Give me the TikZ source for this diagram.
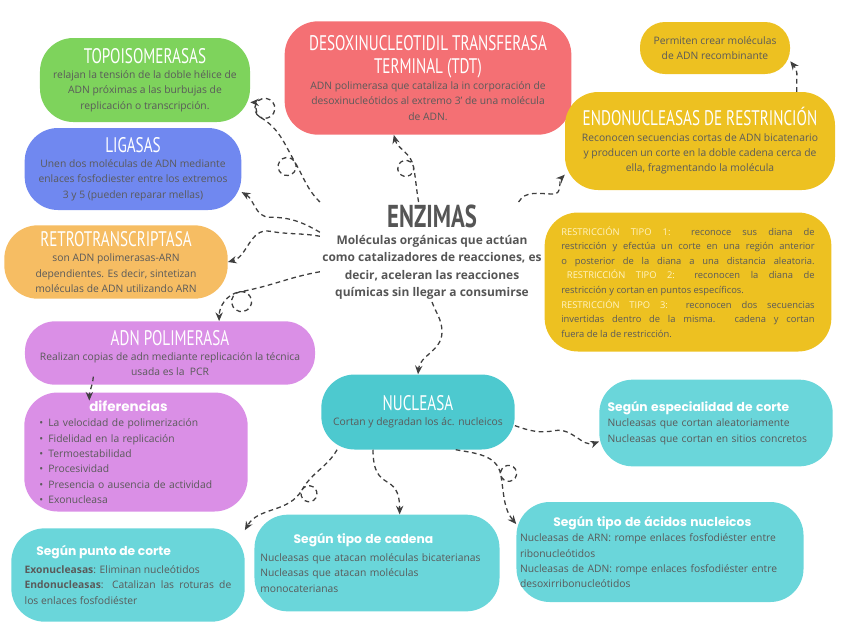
\documentclass[tikz,border=0pt]{standalone}
\usepackage{fontspec}
\setmainfont{Open Sans}
\newfontfamily\headfont[FakeStretch=0.72]{PT Sans}
\newfontfamily\segfont{Poppins}
\usepackage{xcolor}
\usepackage{tikz}
\usetikzlibrary{arrows.meta, positioning, calc}
\hyphenpenalty=10000
\exhyphenpenalty=10000
\definecolor{txtgray}{HTML}{5A5A5A}
\definecolor{enzgray}{HTML}{555555}
\definecolor{arrgray}{HTML}{3F3F3F}
\definecolor{cgreen}{HTML}{7ED35C}
\definecolor{cblue}{HTML}{7088F0}
\definecolor{cred}{HTML}{F47074}
\definecolor{cyellow}{HTML}{EDC121}
\definecolor{corange}{HTML}{F6BD63}
\definecolor{cviolet}{HTML}{DA8FE6}
\definecolor{cteal}{HTML}{4DC9CF}
\definecolor{cteal2}{HTML}{6AD6DA}
\definecolor{restlight}{HTML}{FFF3C4}
\newcommand{\headtxt}[1]{{\headfont\fontsize{18}{19}\selectfont\color{white}#1}}
\newcommand{\segtxt}[1]{{\segfont\bfseries\fontsize{10.5}{13}\selectfont\color{white}#1}}
\newcommand{\tipo}[1]{{\color{restlight}#1}}
\tikzstyle{blob} = [rectangle, rounded corners=1cm, align=center, text=txtgray, font=\fontsize{8.8}{13.1}\selectfont, inner sep=3pt]
\tikzstyle{lblob} = [blob, align=left]
\tikzstyle{arr} = [-{Stealth[length=2.6mm, width=2.2mm]}, dash pattern=on 4pt off 3pt, line width=1.1pt, draw=arrgray]

\begin{document}
\begin{tikzpicture}[x=0.03cm, y=0.03cm]
  \useasboundingbox (0,0) rectangle (848,-636);
  % centre
  \node[align=center, text=enzgray, inner sep=2pt, font=\fontsize{10.2}{14.8}\selectfont\bfseries] (enz) at (432,-252)
    {{\headfont\fontsize{27}{27}\selectfont ENZIMAS}\\ Moléculas orgánicas que actúan\\ como catalizadores de reacciones, es\\ decir, aceleran las reacciones\\ químicas sin llegar a consumirse};
  % left column
  \node[blob, fill=cgreen, minimum width=6.3cm, minimum height=2.52cm] (topo) at (145,-80)
    {\headtxt{TOPOISOMERASAS}\\ relajan la tensión de la doble hélice de\\ ADN próximas a las burbujas de\\ replicación o transcripción.};
  \node[blob, fill=cblue, minimum width=6.5cm, minimum height=2.46cm] (liga) at (133,-169)
    {\headtxt{LIGASAS}\\ Unen dos moléculas de ADN mediante\\ enlaces fosfodiester entre los extremos\\ 3 y 5 (pueden reparar mellas)};
  \node[blob, fill=corange, minimum width=6.7cm, minimum height=2.2cm] (retro) at (116,-262)
    {\headtxt{RETROTRANSCRIPTASA}\\ son ADN polimerasas-ARN\\ dependientes. Es decir, sintetizan\\ moléculas de ADN utilizando ARN};
  \node[blob, fill=cviolet, rounded corners=0.9cm, minimum width=8.7cm, minimum height=1.9cm] (pol) at (170,-353)
    {\headtxt{ADN POLIMERASA}\\ Realizan copias de adn mediante replicación la técnica\\ usada es la \ PCR};
  \node[lblob, fill=cviolet, text width=5.8cm, minimum width=6.7cm, minimum height=3.57cm] (dif) at (136,-452)
    {\hspace*{1.5cm}{\segfont\bfseries\fontsize{11.5}{13}\selectfont\color{white}diferencias}\\ \textbullet\enspace La velocidad de polimerización\\ \textbullet\enspace Fidelidad en la replicación\\ \textbullet\enspace Termoestabilidad\\ \textbullet\enspace Procesividad\\ \textbullet\enspace Presencia o ausencia de actividad\\ \textbullet\enspace Exonucleasa};
  % top and right
  \node[blob, fill=cred, minimum width=8.6cm, minimum height=3.4cm] (tdt) at (428,-78)
    {\headtxt{DESOXINUCLEOTIDIL TRANSFERASA}\\[6pt] \headtxt{TERMINAL (TDT)}\\[1pt] ADN polimerasa que cataliza la in corporación de\\ desoxinucleótidos al extremo 3' de una molécula\\ de ADN.};
  \node[blob, fill=cyellow, rounded corners=0.75cm, minimum width=4.5cm, minimum height=1.56cm] (recomb) at (715,-48)
    {Permiten crear moléculas\\ de ADN recombinante};
  \node[blob, fill=cyellow, minimum width=8.1cm, minimum height=2.94cm] (endo) at (700,-141)
    {\headtxt{ENDONUCLEASAS DE RESTRINCIÓN}\\ Reconocen secuencias cortas de ADN bicatenario\\ y producen un corte en la doble cadena cerca de\\ ella, fragmentando la molécula};
  \node[blob, align=justify, fill=cyellow, text width=7.6cm, minimum width=8.6cm, minimum height=4.17cm, font=\fontsize{8}{12.5}\selectfont] (restr) at (688,-282)
    {\tipo{RESTRICCIÓN TIPO 1:} reconoce sus diana de\linebreak restricción y efectúa un corte en una región anterior\linebreak o posterior de la diana a una distancia aleatoria.\linebreak \hspace*{0.6em}\tipo{RESTRICCIÓN TIPO 2:} reconocen la diana de\linebreak restricción y cortan en puntos específicos.\\ \tipo{RESTRICCIÓN TIPO 3:} reconocen dos secuencias\linebreak invertidas dentro de la misma. cadena y cortan\linebreak fuera de la de restricción.};
  % nucleasas
  \node[blob, fill=cteal, minimum width=5.8cm, minimum height=2.25cm] (nucl) at (418,-412)
    {\headtxt{NUCLEASA}\\ Cortan y degradan los ác. nucleicos};
  \node[lblob, fill=cteal2, text width=6.5cm, minimum width=7cm, minimum height=2.6cm] (espec) at (716,-423)
    {\segtxt{Según especialidad de corte}\\ Nucleasas que cortan aleatoriamente\\ Nucleasas que cortan en sitios concretos};
  \node[blob, align=justify, fill=cteal2, text width=6.2cm, minimum width=7cm, minimum height=2.8cm] (punto) at (128,-575)
    {\hspace*{0.35cm}\segtxt{Según punto de corte}\\[2pt] \textbf{Exonucleasas}: Eliminan nucleótidos\\ \textbf{Endonucleasas}: Catalizan las roturas de\linebreak los enlaces fosfodiéster};
  \node[lblob, fill=cteal2, text width=7cm, minimum width=7.35cm, minimum height=2.9cm] (cadena) at (377,-563)
    {\hspace*{1cm}\segtxt{Según tipo de cadena}\\[2pt] Nucleasas que atacan moléculas bicaterianas\\ Nucleasas que atacan moléculas\\ monocaterianas};
  \node[lblob, fill=cteal2, text width=8.4cm, minimum width=8.6cm, minimum height=3cm] (acidos) at (660,-552)
    {\hspace*{1cm}\segtxt{Según tipo de ácidos nucleicos}\\ Nucleasas de ARN: rompe enlaces fosfodiéster entre\\ ribonucleótidos\\ Nucleasas de ADN: rompe enlaces fosfodiéster entre\\ desoxirribonucleótidos};
  % connectors from the centre
  \draw[arr] (enz.north west) to[out=135,in=-60] ++(-25,40) arc[start angle=30, delta angle=360, radius=9]
    to[out=120,in=-30] ++(-35,45) arc[start angle=240, delta angle=-360, radius=10] to[out=150,in=0] (topo.-12);
  \draw[arr] (enz.170) to[out=150,in=0] ++(-50,15) to[out=180,in=-30] (liga.-12);
  \draw[arr] (enz.105) to[out=100,in=-80] ++(-5,35) arc[start angle=10, delta angle=360, radius=8] to[out=100,in=-75] (tdt.-121);
  \draw[arr] (enz.30) to[out=60,in=180] ++(35,8) to[out=0,in=-135] (endo.-166);
  \draw[arr] (enz.172) to[out=170,in=-10] ++(-50,5) to[out=170,in=15] (retro.east);
  \draw[arr] (enz.190) to[out=190,in=10] ++(-80,-20) arc[start angle=100, delta angle=360, radius=10] to[out=190,in=90] (pol.33);
  \draw[arr] (enz.south) to[out=-70,in=90] ++(10,-30) to[out=-90,in=85] (nucl.north);
  % secondary links
  \draw[arr] (endo.27) .. controls +(0,20) and +(8,-10) .. (recomb.-10);
  \draw[arr] ([xshift=-2.3cm,yshift=0.25cm]pol.south) to[out=-95,in=90] ([xshift=-1.4cm,yshift=-0.25cm]dif.north);
  \draw[arr] (nucl.-8) to[out=-20,in=190] ++(40,-5) to[out=10,in=200] (espec.-171);
  \draw[arr] (nucl.-155) to[out=-120,in=60] ++(-35,-40) arc[start angle=150, delta angle=360, radius=8] to[out=-120,in=60] (punto.21);
  \draw[arr] (nucl.-140) .. controls +(0,-45) and +(0,45) .. (cadena.65);
  \draw[arr] (nucl.-45) to[out=-10,in=100] ++(45,-25) arc[start angle=190, delta angle=360, radius=8] to[out=-80,in=130] (acidos.169);
\end{tikzpicture}
\end{document}
